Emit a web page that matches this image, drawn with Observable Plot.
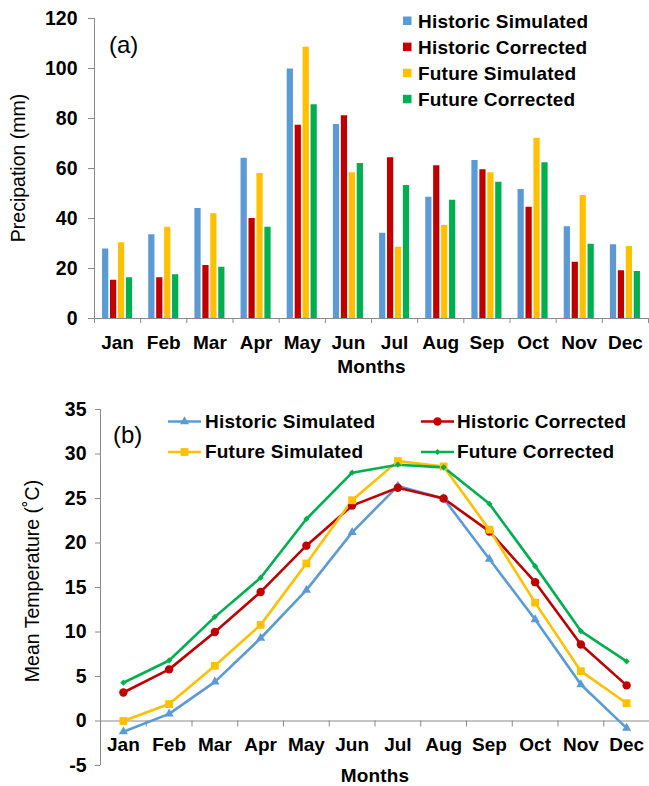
<!DOCTYPE html>
<html><head><meta charset="utf-8">
<script src="https://cdn.jsdelivr.net/npm/d3@7"></script>
<script src="https://cdn.jsdelivr.net/npm/@observablehq/plot@0.6"></script>
<style>
body{margin:0;background:#fff;font-family:"Liberation Sans",Arial,sans-serif;}
#wrap{position:relative;width:649px;height:786px;overflow:hidden;background:#fff;}
#wrap > svg{position:absolute;left:0;}
svg text{font-family:"Liberation Sans",Arial,sans-serif;}
</style></head><body><div id="wrap"></div>
<script>
const months = ["Jan","Feb","Mar","Apr","May","Jun","Jul","Aug","Sep","Oct","Nov","Dec"];
const seriesNames = ["Historic Simulated","Historic Corrected","Future Simulated","Future Corrected"];
const seriesColors = ["#5B9BD5","#C00000","#FFC000","#00B050"];

const precipHistSim = [27.8,33.5,44.0,64.1,99.8,77.6,34.1,48.5,63.2,51.6,36.7,29.5];
const precipHistCor = [15.3,16.3,21.2,40.0,77.3,81.1,64.3,61.1,59.5,44.5,22.5,19.1];
const precipFutSim  = [30.3,36.5,41.9,58.0,108.5,58.3,28.5,37.2,58.3,72.1,49.2,28.8];
const precipFutCor  = [16.3,17.5,20.5,36.5,85.5,62.0,53.2,47.3,54.5,62.3,29.7,18.8];

const tempHistSim = [-1.2,0.8,4.4,9.3,14.7,21.2,26.4,25.0,18.2,11.4,4.1,-0.8];
const tempHistCor = [3.2,5.8,10.0,14.5,19.7,24.2,26.2,25.0,21.3,15.6,8.6,4.0];
const tempFutSim  = [0.0,1.9,6.2,10.8,17.7,24.8,29.2,28.6,21.5,13.3,5.6,2.0];
const tempFutCor  = [4.3,6.8,11.7,16.1,22.7,27.9,28.8,28.5,24.4,17.4,10.1,6.7];

const precipTicks = [0,20,40,60,80,100,120];
const tempTicks = [-5,0,5,10,15,20,25,30,35];

const precipSeries = [precipHistSim, precipHistCor, precipFutSim, precipFutCor];
const tempSeries = [tempHistSim, tempHistCor, tempFutSim, tempFutCor];
const symbols = ["triangle","circle","square","diamond2"];
const symbolR = [3.4, 4.2, 4.4, 2.8];

const gray = "#8a8a8a";
const FONT = "'Liberation Sans', Arial, sans-serif";
const TICK = 19.5;
const wrap = document.getElementById("wrap");

// ---------- panel (a) ----------
const precipRows = [];
precipSeries.forEach((vals, si) => vals.forEach((v, mi) =>
  precipRows.push({mi, si, month: months[mi], series: seriesNames[si], value: v})));
const step = 0.172, bw = 0.135;
const bounds = d3.range(months.length + 1);
const centers = months.map((m, i) => i + 0.5);

const plotA = Plot.plot({
  width: 649, height: 380,
  marginLeft: 94, marginRight: 1, marginTop: 18, marginBottom: 62,
  style: {fontFamily: FONT, background: "transparent"},
  x: {domain: [0, 12]},
  y: {domain: [0, 120]},
  color: {domain: seriesNames, range: seriesColors},
  marks: [
    Plot.rectY(precipRows, {
      x1: d => d.mi + 0.5 + (d.si - 1.5) * step - bw / 2,
      x2: d => d.mi + 0.5 + (d.si - 1.5) * step + bw / 2,
      y: "value", fill: "series"
    }),
    Plot.ruleX([0], {stroke: gray}),
    Plot.ruleY([0], {stroke: gray}),
    Plot.axisY(precipTicks, {tickSize: 6, tickPadding: 11, stroke: gray, fill: "black",
      tickFormat: d => String(d), fontSize: TICK, fontWeight: "bold", label: null}),
    Plot.axisX(bounds, {tickSize: 5, stroke: gray, tickFormat: () => "", label: null}),
    Plot.axisX(centers, {tickSize: 0, tickPadding: 17, tickFormat: d => months[Math.floor(d)],
      fontSize: 19, fontWeight: "bold", fill: "black", label: null})
  ]
});
plotA.style.top = "0px";
wrap.appendChild(plotA);

// ---------- panel (b) ----------
const tempRows = [];
tempSeries.forEach((vals, si) => vals.forEach((v, mi) =>
  tempRows.push({mi, si, month: months[mi], series: seriesNames[si], value: v})));

const plotB = Plot.plot({
  width: 649, height: 406,
  marginLeft: 100, marginRight: 0, marginTop: 29, marginBottom: 21,
  style: {fontFamily: FONT, background: "transparent"},
  x: {domain: [0, 12], axis: null},
  y: {domain: [-5, 35]},
  color: {domain: seriesNames, range: seriesColors},
  marks: [
    Plot.ruleX([0], {stroke: gray}),
    Plot.ruleY([0], {stroke: gray}),
    Plot.ruleX(bounds, {x: d => d, y1: () => 0, y2: () => 0, insetBottom: -6, stroke: gray}),
    Plot.axisY(tempTicks, {tickSize: 5, tickPadding: 9, stroke: gray, fill: "black",
      tickFormat: d => String(d), fontSize: TICK, fontWeight: "bold", label: null}),
    Plot.text(months, {x: (d, i) => i + 0.5, y: () => 0, dy: 24, fontSize: 19,
      fontWeight: "bold", fill: "black"}),
    ...seriesNames.map((s, si) => Plot.line(tempRows.filter(d => d.si === si), {
      x: d => d.mi + 0.5, y: "value", stroke: "series", strokeWidth: 2.6
    })),
    ...seriesNames.map((s, si) => Plot.dot(tempRows.filter(d => d.si === si), {
      x: d => d.mi + 0.5, y: "value", fill: "series", symbol: () => symbols[si], r: symbolR[si]
    }))
  ]
});
plotB.style.top = "380px";
wrap.appendChild(plotB);

// ---------- overlay: titles, labels, legends ----------
const ov = d3.select(wrap).append("svg")
  .attr("width", 649).attr("height", 786)
  .style("position", "absolute").style("left", 0).style("top", 0)
  .style("pointer-events", "none");
const tx = (x, y, t, o = {}) => ov.append("text").attr("x", x).attr("y", y).text(t)
  .attr("font-size", o.size || 18).attr("font-weight", o.weight || "normal")
  .attr("text-anchor", o.anchor || "start").attr("fill", "#000")
  .attr("letter-spacing", o.ls || 0)
  .attr("transform", o.rot ? `rotate(-90 ${x} ${y})` : null);

tx(109, 53, "(a)", {size: 24});
tx(113, 443, "(b)", {size: 24});
tx(25, 168, "Precipation (mm)", {size: 19.5, anchor: "middle", rot: true});
tx(39, 581, "Mean Temperature (\u02DAC)", {size: 19.5, anchor: "middle", rot: true});
tx(371.5, 373, "Months", {size: 19, weight: "bold", anchor: "middle", ls: 0.2});
tx(375, 782, "Months", {size: 19, weight: "bold", anchor: "middle", ls: 0.2});

// legend (a)
seriesNames.forEach((s, i) => {
  const cy = 21 + i * 26.1;
  ov.append("rect").attr("x", 403).attr("y", cy - 4.5).attr("width", 8.5).attr("height", 8.5)
    .attr("fill", seriesColors[i]);
  tx(418, cy + 6.8, s, {size: 19, weight: "bold", ls: 0.2});
});

// legend (b)
const legB = [
  {si: 0, x0: 168, x1: 201, tx: 205, cy: 421.5},
  {si: 1, x0: 421, x1: 454, tx: 457, cy: 421.5},
  {si: 2, x0: 168, x1: 201, tx: 205, cy: 452},
  {si: 3, x0: 421, x1: 454, tx: 457, cy: 452}
];
legB.forEach(l => {
  ov.append("line").attr("x1", l.x0).attr("x2", l.x1).attr("y1", l.cy).attr("y2", l.cy)
    .attr("stroke", seriesColors[l.si]).attr("stroke-width", 2.6);
  const sym = {triangle: d3.symbolTriangle, circle: d3.symbolCircle, square: d3.symbolSquare,
    diamond2: d3.symbolDiamond2}[symbols[l.si]];
  const r = symbolR[l.si];
  ov.append("path").attr("d", d3.symbol(sym, Math.PI * r * r)())
    .attr("transform", `translate(${(l.x0 + l.x1) / 2},${l.cy})`).attr("fill", seriesColors[l.si]);
  tx(l.tx, l.cy + 6, seriesNames[l.si], {size: 19, weight: "bold", ls: 0.2});
});
</script></body></html>
